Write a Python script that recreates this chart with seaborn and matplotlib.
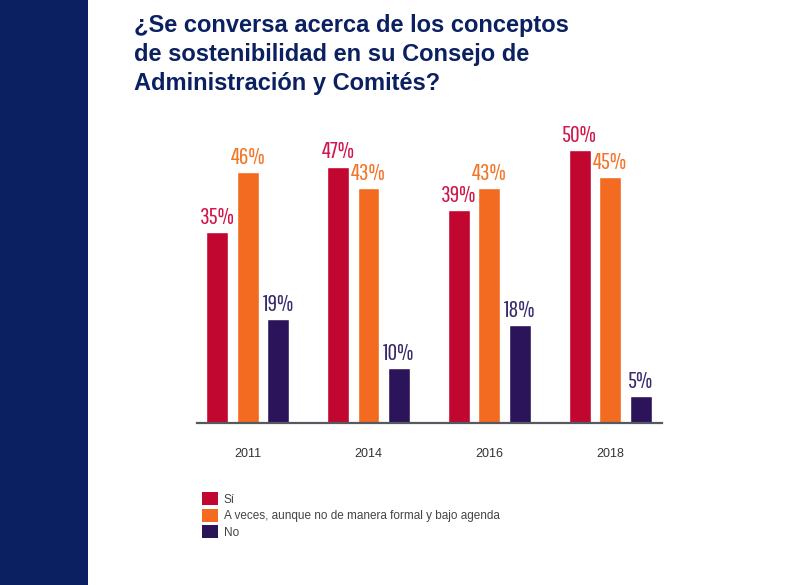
import matplotlib
matplotlib.use("Agg")
import matplotlib.pyplot as plt
import matplotlib.patches as mpatches
from matplotlib import font_manager as fm
import pandas as pd
import seaborn as sns

# datos
years = ["2011", "2014", "2016", "2018"]
answers = ["Sí", "A veces, aunque no de manera formal y bajo agenda", "No"]
si_vals = [35, 47, 39, 50]
aveces_vals = [46, 43, 43, 45]
no_vals = [19, 10, 18, 5]

bar_colors = ["#c1072f", "#f26b21", "#2b1459"]
label_colors = ["#d0164a", "#f37527", "#3a2a6c"]
navy = "#0a2060"

df = pd.DataFrame({
    "year": years * 3,
    "answer": [answers[0]] * 4 + [answers[1]] * 4 + [answers[2]] * 4,
    "value": si_vals + aveces_vals + no_vals,
})


def first_font(cands):
    for fam, w in cands:
        try:
            path = fm.findfont(fm.FontProperties(family=fam, weight=w), fallback_to_default=False)
            return fam, w
        except Exception:
            pass
    return "DejaVu Sans", "normal"


narrow, nweight = first_font([("Pathway Gothic One", "normal"), ("Oswald ExtraLight", "normal"),
                              ("Oswald Light", "normal"), ("Antonio", 200),
                              ("Oswald", 300)])

sns.set_theme(style="white")
plt.rcParams["font.family"] = ["Liberation Sans", "DejaVu Sans"]

fig = plt.figure(figsize=(8, 5.85), dpi=100)
fig.patch.set_facecolor("white")

# franja azul a la izquierda
fig.patches.append(mpatches.Rectangle((0, 0), 88 / 800, 1, transform=fig.transFigure,
                                      facecolor=navy, edgecolor="none", zorder=0))

ax = fig.add_axes([197 / 800, 1 - 423 / 585, (662 - 197) / 800, 0.513])
sns.barplot(data=df, x="year", y="value", hue="answer", hue_order=answers,
            palette=bar_colors, width=0.758, gap=0.28, saturation=1,
            legend=False, ax=ax)

ax.set_xlim(-0.42, 3.43)
ax.set_ylim(0, 55)
ax.set_xlabel("")
ax.set_ylabel("")
ax.set_yticks([])
sns.despine(ax=ax, left=True)
ax.spines["bottom"].set_color("#555a60")
ax.spines["bottom"].set_linewidth(1.6)
ax.tick_params(axis="x", length=0, pad=18, labelsize=9, labelcolor="#333333")

for cont, col in zip(ax.containers, label_colors):
    labels = [f"{int(v)}%" for v in cont.datavalues]
    ax.bar_label(cont, labels=labels, padding=3, color=col, fontsize=17,
                 family=[narrow, "DejaVu Sans"], fontweight=nweight)

fig.text(134 / 800, 1 - 14 / 585,
         "¿Se conversa acerca de los conceptos\nde sostenibilidad en su Consejo de\nAdministración y Comités?",
         ha="left", va="top", fontsize=17, fontweight="bold", color=navy, linespacing=1.33)

handles = [mpatches.Patch(facecolor=c, edgecolor="none") for c in bar_colors]
fig.legend(handles, answers, loc="upper left", bbox_to_anchor=(202 / 800, 1 - 492 / 585),
           frameon=False, fontsize=8.5, handlelength=1.35, handleheight=1.35,
           handletextpad=0.5, labelspacing=0.25, borderpad=0, borderaxespad=0,
           labelcolor="#444444")

fig.savefig("out.png", dpi=100, facecolor="white")
